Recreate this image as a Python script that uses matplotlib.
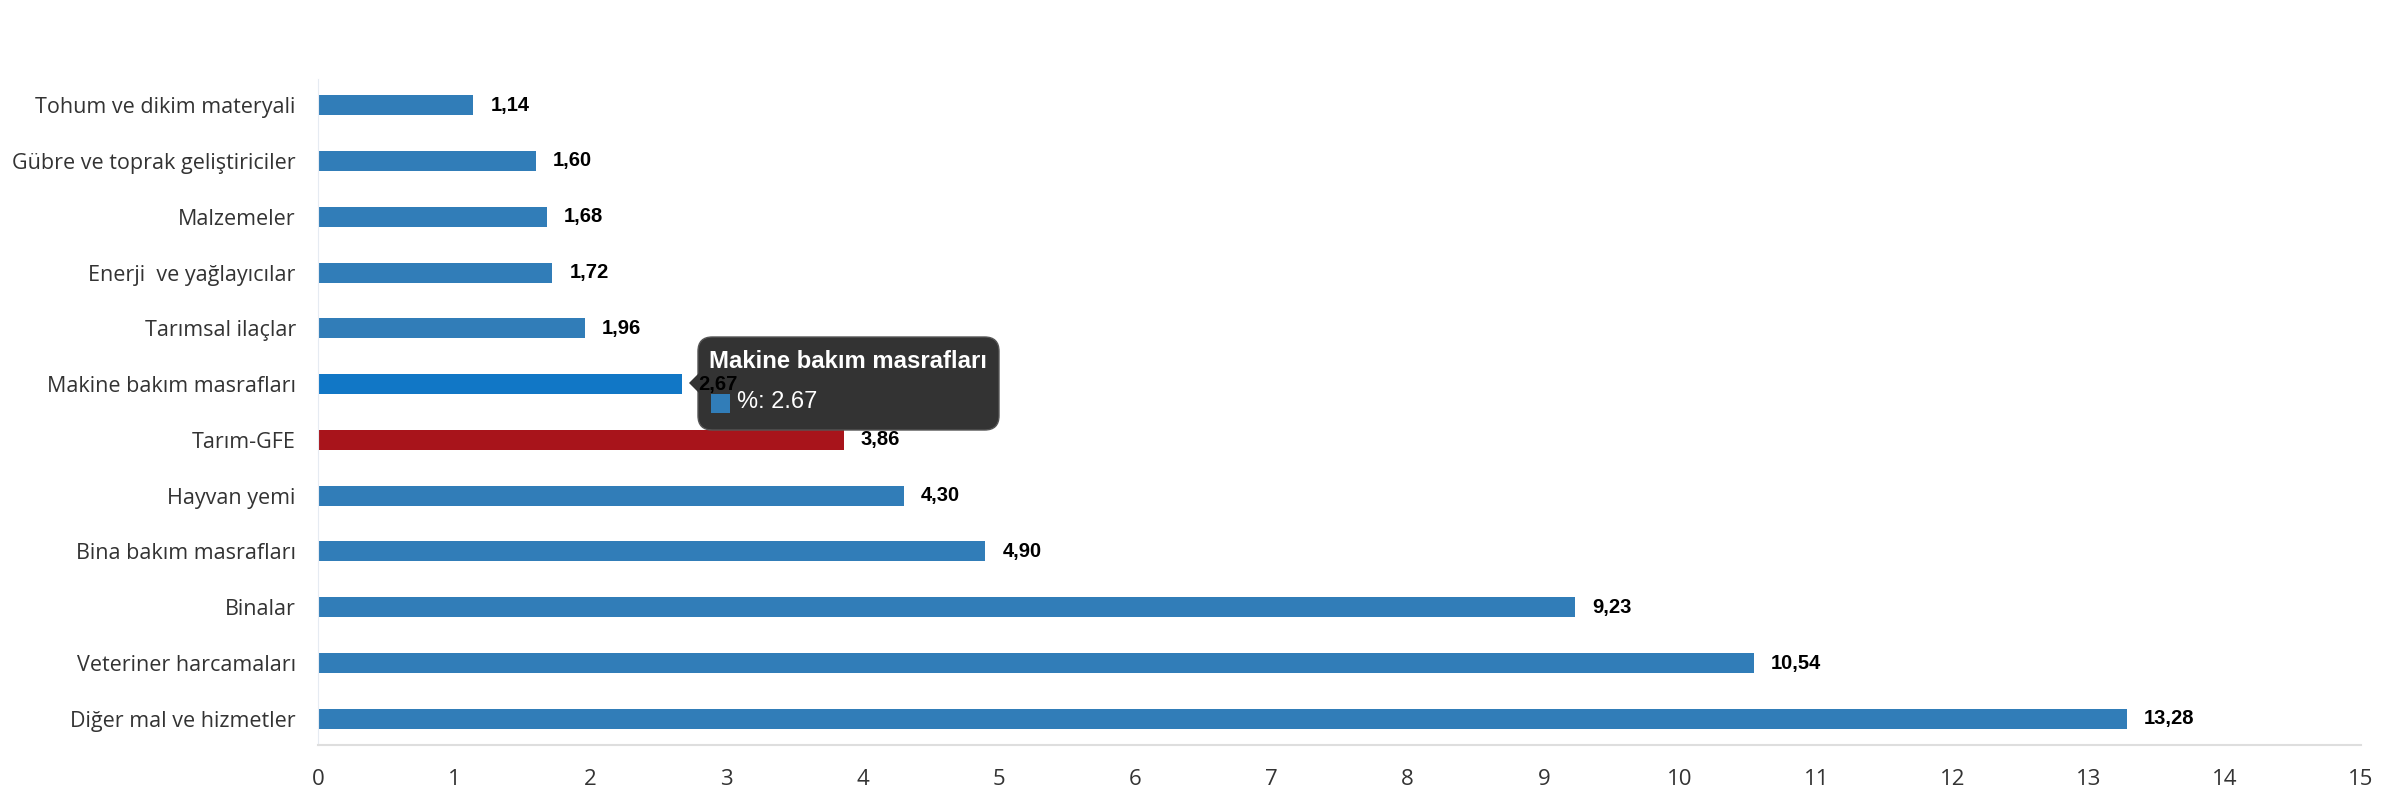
import matplotlib
matplotlib.use("Agg")
import matplotlib.pyplot as plt
from matplotlib.patches import FancyBboxPatch, Polygon, Rectangle

# data, top to bottom as in the chart
categories = [
    "Tohum ve dikim materyali",
    "Gübre ve toprak geliştiriciler",
    "Malzemeler",
    "Enerji  ve yağlayıcılar",
    "Tarımsal ilaçlar",
    "Makine bakım masrafları",
    "Tarım-GFE",
    "Hayvan yemi",
    "Bina bakım masrafları",
    "Binalar",
    "Veteriner harcamaları",
    "Diğer mal ve hizmetler",
]
values = [1.14, 1.60, 1.68, 1.72, 1.96, 2.67, 3.86, 4.30, 4.90, 9.23, 10.54, 13.28]
x_ticks = list(range(0, 16))

BLUE = "#317db8"
HOVER = "#1177c6"
RED = "#a8141b"

colors = []
for c in categories:
    if c == "Tarım-GFE":
        colors.append(RED)
    elif c == "Makine bakım masrafları":
        colors.append(HOVER)
    else:
        colors.append(BLUE)

fig = plt.figure(figsize=(23.84, 8), dpi=100)
ax = fig.add_axes([318 / 2384, 1 - 745 / 800, (2361 - 318) / 2384, (745 - 79) / 800])

y = list(range(len(categories)))
ax.barh(y, values, height=0.36, color=colors, zorder=2)
ax.set_ylim(len(categories) - 0.53, -0.47)
ax.set_xlim(0, 15)
ax.set_xticks(x_ticks)
ax.set_yticks(y)
ax.set_yticklabels(categories, family=["Open Sans", "DejaVu Sans"], fontsize=15.5, color="#333333")
for lab in ax.get_xticklabels():
    lab.set_family(["Open Sans", "DejaVu Sans"])
    lab.set_fontsize(16)
    lab.set_color("#333333")
ax.tick_params(axis="both", length=0)
ax.tick_params(axis="x", pad=17)
ax.tick_params(axis="y", pad=16)

for s in ["top", "right"]:
    ax.spines[s].set_visible(False)
ax.spines["left"].set_color("#e6ebf2")
ax.spines["bottom"].set_color("#dedede")
ax.spines["bottom"].set_linewidth(1.5)

for yi, v in zip(y, values):
    ax.annotate(f"{v:.2f}".replace(".", ","), (v, yi), xytext=(17, 0),
                textcoords="offset pixels", ha="left", va="center",
                fontsize=14.5, fontweight="bold",
                family=["Liberation Sans", "DejaVu Sans"], color="black", zorder=20)

# hover tooltip over "Makine bakım masrafları" (kept in the axes so the value label sits on top)
ft = fig.transFigure
bx0, by0, bx1, by1 = 698 / 2384, 1 - 430 / 800, 999 / 2384, 1 - 337 / 800
box = FancyBboxPatch((bx0, by0), bx1 - bx0, by1 - by0,
                     boxstyle="round,pad=0,rounding_size=0.006",
                     transform=ft, facecolor="#333333", edgecolor="#555555",
                     linewidth=1, zorder=10, mutation_aspect=2384 / 800, clip_on=False)
ax.add_patch(box)
tri = Polygon([(689 / 2384, 1 - 383 / 800), (699 / 2384, 1 - 373 / 800), (699 / 2384, 1 - 393 / 800)],
              closed=True, transform=ft, facecolor="#333333", edgecolor="none", zorder=10, clip_on=False)
ax.add_patch(tri)
ax.text(709 / 2384, 1 - 362 / 800, "Makine bakım masrafları", transform=ft, fontsize=17.2,
        fontweight="bold", color="white", family=["Liberation Sans", "DejaVu Sans"],
        va="center", zorder=11, clip_on=False)
sq = Rectangle((711 / 2384, 1 - 413 / 800), 19 / 2384, 19 / 800, transform=ft,
               facecolor=BLUE, edgecolor="none", zorder=11, clip_on=False)
ax.add_patch(sq)
ax.text(737 / 2384, 1 - 402 / 800, "%: 2.67", transform=ft, fontsize=17, color="white",
        family=["Liberation Sans", "DejaVu Sans"], va="center", zorder=11, clip_on=False)

fig.savefig("out.png", dpi=100, facecolor="white")
